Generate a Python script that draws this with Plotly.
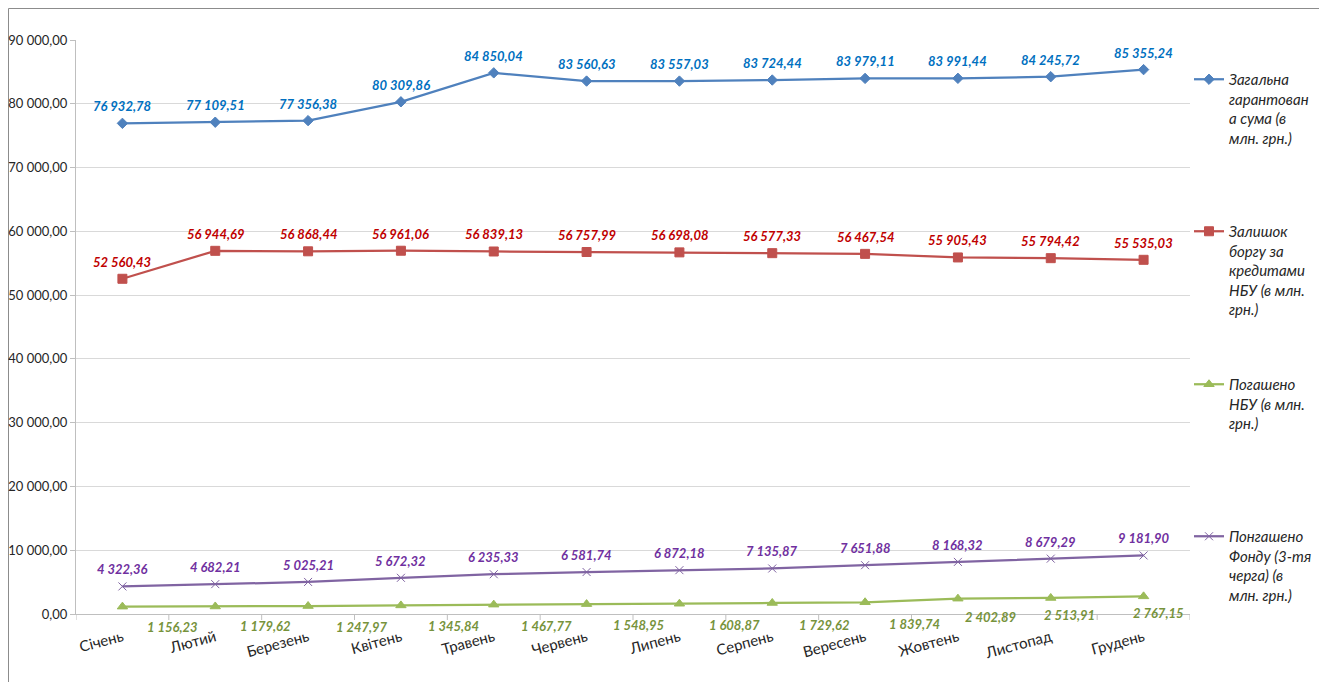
import plotly.graph_objects as go

months = ["Січень", "Лютий", "Березень", "Квітень", "Травень", "Червень",
          "Липень", "Серпень", "Вересень", "Жовтень", "Листопад", "Грудень"]

total_guaranteed = [76932.78, 77109.51, 77356.38, 80309.86, 84850.04, 83560.63,
                    83557.03, 83724.44, 83979.11, 83991.44, 84245.72, 85355.24]
nbu_debt = [52560.43, 56944.69, 56868.44, 56961.06, 56839.13, 56757.99,
            56698.08, 56577.33, 56467.54, 55905.43, 55794.42, 55535.03]
nbu_repaid = [1156.23, 1179.62, 1247.97, 1345.84, 1467.77, 1548.95,
              1608.87, 1729.62, 1839.74, 2402.89, 2513.91, 2767.15]
fund_repaid = [4322.36, 4682.21, 5025.21, 5672.32, 6235.33, 6581.74,
               6872.18, 7135.87, 7651.88, 8168.32, 8679.29, 9181.90]

names = [
    "Загальна<br>гарантован<br>а сума (в<br>млн. грн.)",
    "Залишок<br>боргу за<br>кредитами<br>НБУ (в млн.<br>грн.)",
    "Погашено<br>НБУ (в млн.<br>грн.)",
    "Понгашено<br>Фонду (3-тя<br>черга) (в<br>млн. грн.)",
]

y_ticks = list(range(0, 90001, 10000))


def fmt(v):
    s = f"{v:,.2f}"
    return s.replace(",", " ").replace(".", ",")


FONT = "Lato"
x_idx = list(range(len(months)))

# figure geometry (page body has an 8px margin)
W, H = 1313, 674
L, T = 68, 32
pw, ph = 1114, 574
R = W - L - pw
B = H - T - ph
cat_px = pw / len(months)

fig = go.Figure()


def label_font(c):
    return dict(family=FONT, size=13, color=c, weight="bold", style="italic")


def add_series(vals, name, line_c, label_c, symbol, msize, legend, show_text=True):
    fig.add_trace(go.Scatter(
        x=x_idx, y=vals, name=name, mode="lines+markers",
        line=dict(color=line_c, width=2.25),
        marker=dict(symbol=symbol, size=msize, color=line_c,
                    line=dict(color=line_c, width=1)),
        legend=legend, cliponaxis=False,
    ))
    if show_text:
        for i, v in enumerate(vals):
            fig.add_annotation(x=i, y=v, xref="x", yref="y", yshift=17,
                               text=fmt(v), showarrow=False, font=label_font(label_c))


add_series(total_guaranteed, names[0], "#4f81bd", "#0070c0", "diamond", 8, "legend")
add_series(nbu_debt, names[1], "#c0504d", "#c00000", "square", 9, "legend2")
add_series(nbu_repaid, names[2], "#9bbb59", "#77933c", "triangle-up", 9, "legend3", show_text=False)
add_series(fund_repaid, names[3], "#8064a2", "#7030a0", "x-thin-open", 8, "legend4")

# green labels, placed as in the source chart (offsets in px)
green_dx = [50, 50, 54, 53, 53, 52, 55, 52, 49, 33, 19, 15]
green_dy = [-20, -20, -21, -21, -21, -21, -21, -22, -22, -18, -17, -17]
for i, v in enumerate(nbu_repaid):
    fig.add_annotation(
        x=i + green_dx[i] / cat_px, y=v, yshift=green_dy[i], xref="x", yref="y",
        text=fmt(v), showarrow=False, font=label_font("#77933c"),
    )

legend_common = dict(
    font=dict(family=FONT, size=15, color="#262626", style="italic"),
    bgcolor="rgba(0,0,0,0)", borderwidth=0, itemwidth=30, valign="top",
    xanchor="left", yanchor="top", tracegroupgap=0,
)
leg_tops = [55, 207, 360, 512]
leg_x = (1181 - L) / pw
legs = {}
for k, top in enumerate(leg_tops):
    key = "legend" if k == 0 else f"legend{k+1}"
    legs[key] = dict(legend_common, x=leg_x, y=(T + ph - top) / ph)

fig.update_layout(
    width=W, height=H,
    margin=dict(l=L, r=R, t=T, b=B, autoexpand=False),
    paper_bgcolor="white", plot_bgcolor="white",
    showlegend=True,
    **legs,
    xaxis=dict(
        type="linear", range=[-0.5, 11.5], automargin=False,
        tickmode="array", tickvals=x_idx, ticktext=months,
        tickangle=-15, ticklabelstandoff=8,
        tickfont=dict(family=FONT, size=15, color="#262626"),
        showgrid=False, zeroline=False,
        showline=True, linecolor="#bfbfbf", linewidth=1,
        ticks="",
    ),
    yaxis=dict(
        range=[0, 90000], automargin=False,
        tickmode="array", tickvals=y_ticks, ticktext=[fmt(v) for v in y_ticks],
        tickfont=dict(family=FONT, size=13, color="#262626"),
        showgrid=True, gridcolor="#d9d9d9", gridwidth=1,
        zeroline=False,
        showline=True, linecolor="#bfbfbf", linewidth=1,
        ticks="outside", ticklen=5, tickcolor="#bfbfbf",
    ),
)

# category boundary tick marks on x axis
for k in range(13):
    fig.add_shape(type="line", xref="x", yref="paper",
                  x0=k - 0.5, x1=k - 0.5, y0=0, y1=-6 / ph,
                  line=dict(color="#bfbfbf", width=1))

# outer chart border
fig.add_shape(type="rect", xref="paper", yref="paper",
              x0=(0.5 - L) / pw, x1=(1312 - L) / pw,
              y0=(T + ph - 700) / ph, y1=(T + ph - 0.5) / ph,
              line=dict(color="#8c8c8c", width=1), fillcolor="rgba(0,0,0,0)", layer="below")

fig.write_html("out.html")
